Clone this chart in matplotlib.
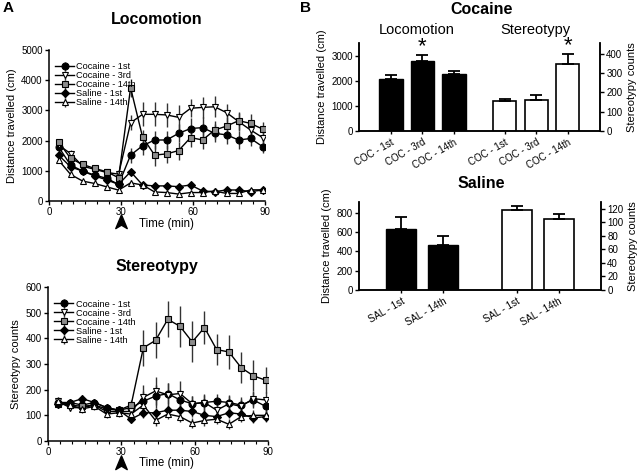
import numpy as np
import matplotlib
matplotlib.use("Agg")
import matplotlib.pyplot as plt
import matplotlib.transforms as mtransforms
from matplotlib.path import Path
from matplotlib.ticker import MultipleLocator

plt.rcParams['font.family'] = ['Liberation Sans', 'DejaVu Sans']

# ---- time course data (panel A) ----
time_min = [4, 9, 14, 19, 24, 29, 34, 39, 44, 49, 54, 59, 64, 69, 74, 79, 84, 89]
injection_time = 30

series_names = ["Cocaine - 1st", "Cocaine - 3rd", "Cocaine - 14th", "Saline - 1st", "Saline - 14th"]

loco_coc1 = [1790, 1190, 990, 860, 750, 550, 1520, 1830, 2020, 2020, 2240, 2400, 2430, 2240, 2190, 2020, 2070, 1800]
loco_coc3 = [1850, 1570, 1150, 1050, 945, 890, 2590, 2870, 2870, 2850, 2770, 3070, 3100, 3120, 2925, 2630, 2350, 2100]
loco_coc14 = [1957, 1410, 1210, 1080, 970, 770, 3750, 2110, 1520, 1560, 1670, 2100, 2020, 2350, 2480, 2660, 2570, 2380]
loco_sal1 = [1520, 1130, 990, 830, 700, 550, 970, 530, 500, 500, 475, 530, 330, 310, 365, 365, 310, 365]
loco_sal14 = [1350, 880, 660, 580, 470, 360, 600, 530, 300, 280, 230, 280, 280, 330, 250, 250, 370, 370]

loco_coc1_err = [150, 120, 100, 100, 100, 80, 250, 300, 300, 300, 300, 350, 350, 300, 300, 300, 250, 200]
loco_coc3_err = [150, 120, 100, 100, 100, 80, 250, 400, 400, 400, 400, 300, 350, 350, 300, 300, 300, 300]
loco_coc14_err = [100, 100, 80, 80, 80, 80, 300, 250, 350, 300, 300, 300, 300, 300, 300, 300, 300, 250]
loco_sal1_err = [100, 80, 60, 60, 60, 60, 100, 60, 60, 60, 60, 60, 60, 50, 50, 50, 50, 50]
loco_sal14_err = [80, 60, 50, 50, 50, 50, 80, 50, 50, 50, 50, 50, 50, 50, 50, 50, 50, 50]

ster_coc1 = [150, 150, 140, 150, 130, 120, 130, 155, 175, 185, 160, 145, 150, 155, 150, 140, 160, 135]
ster_coc3 = [155, 130, 130, 140, 115, 115, 115, 170, 195, 180, 185, 145, 150, 120, 145, 135, 165, 160]
ster_coc14 = [145, 140, 135, 140, 125, 120, 140, 363, 392, 474, 447, 386, 442, 356, 347, 286, 254, 237]
ster_sal1 = [145, 150, 165, 150, 130, 120, 85, 110, 110, 120, 120, 115, 100, 95, 110, 105, 90, 95]
ster_sal14 = [155, 140, 125, 135, 105, 110, 105, 140, 80, 105, 95, 70, 80, 85, 65, 95, 100, 100]

ster_coc1_err = [15, 15, 15, 15, 15, 15, 20, 40, 45, 40, 40, 30, 30, 30, 30, 30, 30, 25]
ster_coc3_err = [15, 15, 15, 15, 15, 15, 20, 50, 55, 45, 50, 30, 35, 30, 30, 30, 30, 30]
ster_coc14_err = [15, 15, 15, 15, 15, 15, 20, 70, 70, 70, 80, 80, 65, 60, 65, 60, 60, 50]
ster_sal1_err = [15, 15, 15, 15, 15, 15, 15, 20, 20, 20, 20, 20, 20, 20, 20, 20, 20, 20]
ster_sal14_err = [15, 15, 15, 15, 15, 15, 15, 20, 20, 20, 20, 20, 20, 20, 20, 20, 20, 20]

# ---- bar data (panel B) ----
coc_labels = ["COC - 1st", "COC - 3rd", "COC - 14th"]
coc_loco = [2067, 2800, 2280]
coc_loco_err = [146, 213, 120]
coc_ster = [153, 162, 348]
coc_ster_err = [14, 26, 49]

sal_labels = ["SAL - 1st", "SAL - 14th"]
sal_loco = [629, 464]
sal_loco_err = [121, 96]
sal_ster = [118, 105]
sal_ster_err = [6, 7]

W, H = 640, 471
fig = plt.figure(figsize=(6.4, 4.71), dpi=100)


def px_axes(left, top, right, bottom):
    return fig.add_axes([left / W, 1 - bottom / H, (right - left) / W, (bottom - top) / H])


def ftext(x, y, s, **kw):
    fig.text(x / W, 1 - y / H, s, ha=kw.pop("ha", "center"), va=kw.pop("va", "center"), **kw)


styles = [
    dict(marker="o", mfc="black"),
    dict(marker="v", mfc="white"),
    dict(marker="s", mfc="#8c8c8c"),
    dict(marker="D", mfc="black", ms=4.3),
    dict(marker="^", mfc="white"),
]

arrow = Path([(0, 1), (0.75, -0.8), (0, -0.35), (-0.75, -0.8), (0, 1)],
             [Path.MOVETO, Path.LINETO, Path.LINETO, Path.LINETO, Path.CLOSEPOLY])


def time_panel(ax, series, errors, ymax, ystep, ylabel):
    for name, vals, errs, st in zip(series_names, series, errors, styles):
        kw = dict(ms=5, mec="black", mew=0.8)
        kw.update(st)
        ax.errorbar(time_min, vals, yerr=errs, color="black", lw=1, ecolor="#333333",
                    elinewidth=1, capsize=0, label=name, **kw)
    ax.set_xlim(0, 90)
    ax.set_ylim(0, ymax)
    ax.xaxis.set_major_locator(MultipleLocator(30))
    ax.xaxis.set_minor_locator(MultipleLocator(5))
    ax.yaxis.set_major_locator(MultipleLocator(ystep))
    for s in ["top", "right"]:
        ax.spines[s].set_visible(False)
    for s in ["left", "bottom"]:
        ax.spines[s].set_linewidth(1.1)
    ax.tick_params(which="major", labelsize=7, length=3, width=1, pad=1.5)
    ax.tick_params(which="minor", length=1.8, width=0.8)
    ax.set_ylabel(ylabel, fontsize=8, labelpad=3)
    ax.legend(loc="upper left", bbox_to_anchor=(0.0, 0.96), frameon=False, fontsize=6.6,
              labelspacing=0.0, handlelength=2.0, handletextpad=0.3, borderaxespad=0.3)
    trans = mtransforms.blended_transform_factory(ax.transData, ax.transAxes)
    ax.plot([injection_time], [-0.14], transform=trans, marker=arrow, ms=11, color="black",
            clip_on=False, ls="none")


ax1 = px_axes(49, 50, 265, 201)
time_panel(ax1, [loco_coc1, loco_coc3, loco_coc14, loco_sal1, loco_sal14],
           [loco_coc1_err, loco_coc3_err, loco_coc14_err, loco_sal1_err, loco_sal14_err],
           5000, 1000, "Distance travelled (cm)")
ax2 = px_axes(48, 287, 268, 441)
time_panel(ax2, [ster_coc1, ster_coc3, ster_coc14, ster_sal1, ster_sal14],
           [ster_coc1_err, ster_coc3_err, ster_coc14_err, ster_sal1_err, ster_sal14_err],
           600, 100, "Stereotypy counts")

ftext(157, 20, "Locomotion", fontsize=11.5, fontweight="bold")
ftext(157, 267, "Stereotypy", fontsize=11.5, fontweight="bold")
ftext(166, 224, "Time (min)", fontsize=8.3)
ftext(166, 463, "Time (min)", fontsize=8.3)
ftext(3, 8, "A", fontsize=11, fontweight="bold", ha="left")
ftext(300, 8, "B", fontsize=11, fontweight="bold", ha="left")


def bar_panel(ax, loco, loco_err, ster, ster_err, labels, pos_l, pos_r, xmax, lmax, rmax,
              lstep, rstep, width, stars=()):
    axr = ax.twinx()
    zeros = [0] * len(loco)
    ax.bar(pos_l, loco, width=width, color="black", edgecolor="black", lw=1)
    ax.errorbar(pos_l, loco, yerr=[zeros, loco_err], fmt="none", ecolor="black",
                elinewidth=1.3, capsize=4, capthick=1.3)
    axr.bar(pos_r, ster, width=width, color="white", edgecolor="black", lw=1.2)
    axr.errorbar(pos_r, ster, yerr=[zeros, ster_err], fmt="none", ecolor="black",
                 elinewidth=1.3, capsize=4, capthick=1.3)
    ax.set_xlim(-0.02, xmax)
    ax.set_ylim(0, lmax)
    axr.set_ylim(0, rmax)
    ax.yaxis.set_major_locator(MultipleLocator(lstep))
    axr.yaxis.set_major_locator(MultipleLocator(rstep))
    ax.set_xticks(list(pos_l) + list(pos_r))
    ax.set_xticklabels(labels + labels, rotation=30, ha="right", rotation_mode="anchor",
                       fontsize=6.5)
    for a in (ax, axr):
        a.spines["top"].set_visible(False)
        for s in ["left", "right", "bottom"]:
            a.spines[s].set_linewidth(1.1)
        a.tick_params(labelsize=7, length=3, width=1, pad=1.5)
    ax.tick_params(axis="x", length=2.5, pad=2)
    ax.set_ylabel("Distance travelled (cm)", fontsize=8, labelpad=3)
    axr.set_ylabel("Stereotypy counts", fontsize=8, labelpad=3)
    for side, i in stars:
        if side == "l":
            ax.text(pos_l[i], loco[i] + loco_err[i] - lmax * 0.02, "*", ha="center",
                    va="bottom", fontsize=16)
        else:
            axr.text(pos_r[i], ster[i] + ster_err[i] - rmax * 0.02, "*", ha="center",
                     va="bottom", fontsize=16)
    return axr


ax3 = px_axes(359, 43, 600, 131)
n = len(coc_labels)
bar_panel(ax3, coc_loco, coc_loco_err, coc_ster, coc_ster_err, coc_labels,
          np.arange(n) + 1.0, np.arange(n) + 4.62, 7.65, 3500, 455, 1000, 100, 0.74,
          stars=[("l", 1), ("r", 2)])

ax4 = px_axes(359, 202, 601, 290)
m = len(sal_labels)
bar_panel(ax4, sal_loco, sal_loco_err, sal_ster, sal_ster_err, sal_labels,
          np.arange(m) + 1.0, np.arange(m) + 3.77, 5.79, 910, 130, 200, 20, 0.72)

ftext(482, 9, "Cocaine", fontsize=11.5, fontweight="bold")
ftext(417, 30, "Locomotion", fontsize=10.5)
ftext(535, 30, "Stereotypy", fontsize=10.5)
ftext(481, 183, "Saline", fontsize=11.5, fontweight="bold")

fig.savefig("out.png", dpi=100)
